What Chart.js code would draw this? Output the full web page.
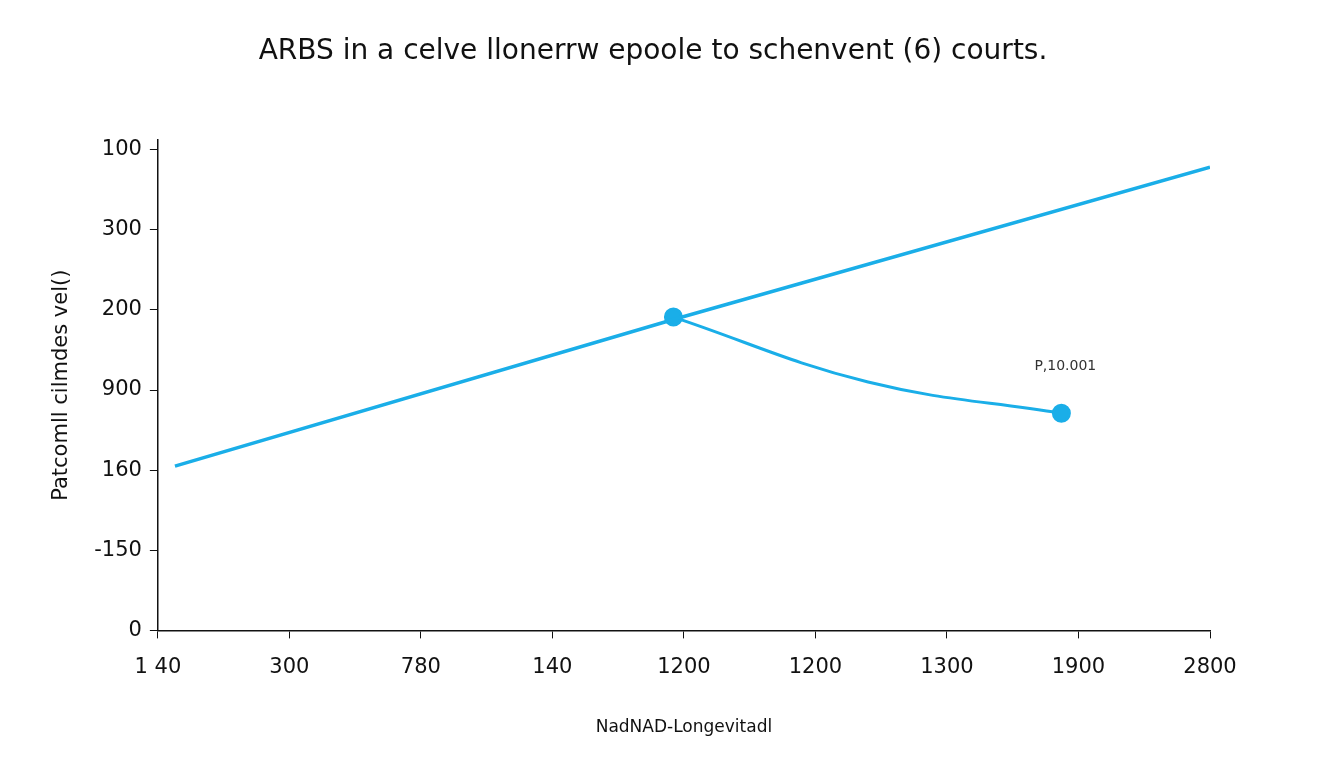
<!DOCTYPE html>
<html><head><meta charset="utf-8">
<script src="https://cdn.jsdelivr.net/npm/chart.js@4"></script>
<style>html,body{margin:0;background:#fff}#w{width:1344px;height:768px}</style>
</head><body><div id="w"><canvas id="c"></canvas></div>
<script>
const xLabels=["1 40","300","780","140","1200","1200","1300","1900","2800"];
const yLabels=["0","-150","160","900","200","300","100"];
const lineA=[{x:0.13,y:2.05},{x:3.92,y:3.88},{x:8,y:5.78}];
const lineB=[{x:3.92,y:3.91},{x:5.4,y:3.1},{x:6.87,y:2.71}];
const titleText="ARBS in a celve llonerrw epoole to schenvent (6) courts.";
const noteText="P,10.001";
const notePos={x:6.9,y:3.25};
const blue="#1aaee8";
const note={id:'note',afterDatasetsDraw(ch){const c=ch.ctx,xs=ch.scales.x,ys=ch.scales.y;c.save();c.font='14px "DejaVu Sans"';c.fillStyle='#333';c.textAlign='center';c.fillText(noteText,xs.getPixelForValue(notePos.x),ys.getPixelForValue(notePos.y));
c.font='28px "DejaVu Sans"';c.fillStyle='#111';c.textBaseline='middle';c.fillText(titleText,653,52);c.restore();}};
new Chart(document.getElementById('c'),{type:'scatter',
data:{datasets:[
{data:lineA,showLine:true,borderColor:blue,borderWidth:3.5,pointRadius:0,tension:0},
{data:lineB,showLine:true,borderColor:blue,backgroundColor:blue,borderWidth:3,tension:0.4,pointRadius:[8,0,8],pointHoverRadius:8}]},
options:{responsive:true,maintainAspectRatio:false,animation:false,
layout:{padding:{left:45,right:134,top:140,bottom:26}},
plugins:{legend:{display:false},tooltip:{enabled:false},title:{display:false}},
scales:{
x:{type:'linear',min:0,max:8,ticks:{stepSize:1,color:'#111',font:{family:'DejaVu Sans',size:21},padding:17,callback:v=>xLabels[v]},
grid:{drawOnChartArea:false,color:'#111',tickLength:8},border:{color:'#111',width:1.5},
title:{display:true,text:'NadNAD-Longevitadl',color:'#111',font:{family:'DejaVu Sans',size:17},padding:{top:20}}},
y:{type:'linear',min:0,max:6.12,afterBuildTicks(s){s.ticks=[0,1,2,3,4,5,6].map(v=>({value:v}));},ticks:{color:'#111',font:{family:'DejaVu Sans',size:21},padding:8,callback:v=>yLabels[v]},
grid:{drawOnChartArea:false,color:'#111',tickLength:8},border:{color:'#111',width:1.5},
title:{display:true,text:'Patcomll cilmdes vel()',color:'#111',font:{family:'DejaVu Sans',size:21},padding:{bottom:12}}}}},
plugins:[note]});
</script></body></html>
